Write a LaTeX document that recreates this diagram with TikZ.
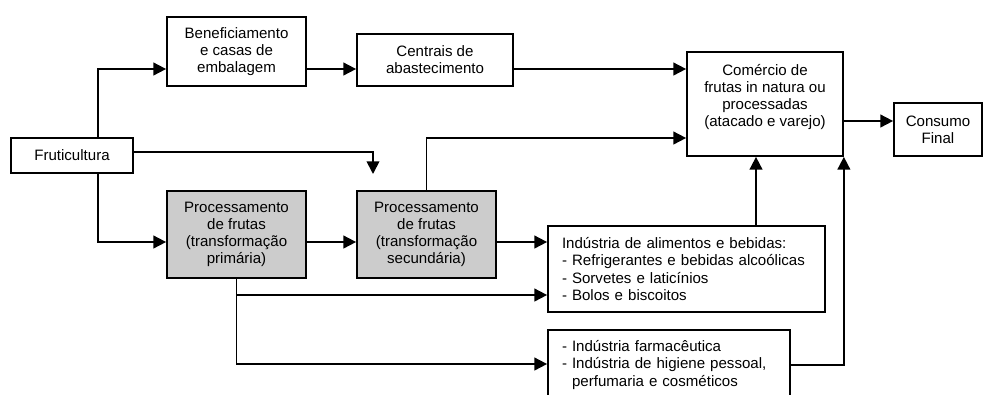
\documentclass[tikz,border=0pt]{standalone}
\usepackage{fontspec}
\setmainfont{Liberation Sans}
\usetikzlibrary{arrows.meta}

\begin{document}
\begin{tikzpicture}[x=0.75pt,y=-0.75pt,
		box/.style={draw,line width=1.3pt,align=center,inner sep=0pt,
			font=\fontsize{11.3}{12.9}\selectfont},
		procbox/.style={box,fill=black!20},
		listbox/.style={box,align=left,inner xsep=10.5pt},
		flow/.style={line width=1.3pt,-{Triangle[length=9.5pt,width=9.5pt]}},
		join/.style={line width=1.3pt}]

		\useasboundingbox (0,0) rectangle (984,394);

		% PRODUCTION
		\node[box,minimum width=91.5pt,minimum height=26.25pt] (fruti) at (72,155.5) {Fruticultura};

		% TOP CHAIN
		\node[box,minimum width=104.25pt,minimum height=51.75pt] (benef) at (236.5,51.5)
			{Beneficiamento\\e casas de\\embalagem};
		\node[box,minimum width=117pt,minimum height=39pt] (centrais) at (435,60)
			{Centrais de\\abastecimento};

		% PROCESSING
		\node[procbox,minimum width=104.25pt,minimum height=65.25pt] (proc1) at (236.5,234.5)
			{Processamento\\de frutas\\(transformação\\primária)};
		\node[procbox,minimum width=104.25pt,minimum height=65.25pt] (proc2) at (426.5,234.5)
			{Processamento\\de frutas\\(transformação\\secundária)};

		% INDUSTRY
		\node[listbox,text width=186.75pt,minimum height=64.5pt] (alimentos) at (686.5,269)
			{Indústria de alimentos e bebidas:\\- Refrigerantes e bebidas alcoólicas\\- Sorvetes e laticínios\\- Bolos e biscoitos};
		\node[listbox,text width=160.5pt,minimum height=52.5pt] (farma) at (669,365)
			{- Indústria farmacêutica\\- Indústria de higiene pessoal,\\\hphantom{- }perfumaria e cosméticos};

		% MARKET
		\node[box,minimum width=117pt,minimum height=78pt] (comercio) at (765,104)
			{Comércio de\\frutas in natura ou\\processadas\\(atacado e varejo)\\~};
		\node[box,minimum width=66pt,minimum height=39.75pt] (consumo) at (938,129.5)
			{Consumo\\Final};

		\coordinate (drop) at (373,174); % free end of the arrow from Fruticultura

		% CONNECTORS
		\draw[flow] ([xshift=19.5pt]fruti.north) |- (benef.west |- 0,69);
		\draw[flow] (benef.east |- 0,69) -- (centrais.west |- 0,69);
		\draw[flow] (centrais.east |- 0,69) -- (comercio.west |- 0,69);
		\draw[flow] (fruti.east |- 0,152) -| (drop);
		\draw[flow] ([xshift=19.5pt]fruti.south) |- (proc1.west |- 0,242);
		\draw[flow] (proc1.east |- 0,242) -- (proc2.west |- 0,242);
		\draw[flow] (proc2.east |- 0,242) -- (alimentos.west |- 0,242);
		\draw[flow] (proc2.north) |- (comercio.west |- 0,138);
		\foreach \y/\t in {295/alimentos,364/farma}{
			\draw[flow] (proc1.south) |- (\t.west |- 0,\y);
		}
		\draw[flow] (alimentos.north -| 756,0) -- (comercio.south -| 756,0);
		\draw[flow] (farma.east) -| (comercio.south east);
		\draw[flow] (comercio.east |- 0,121) -- (consumo.west |- 0,121);

	\end{tikzpicture}
\end{document}
